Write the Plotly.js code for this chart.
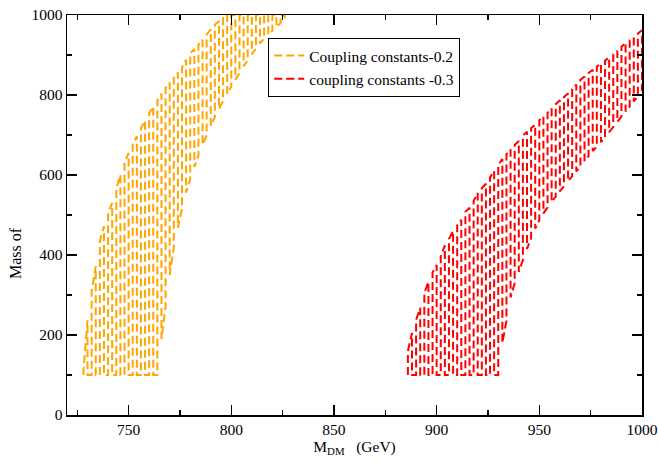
<!DOCTYPE html>
<html>
<head>
<meta charset="utf-8">
<script src="https://cdn.plot.ly/plotly-3.0.1.min.js"></script>
<style>html,body{margin:0;padding:0;background:#fff;}#chart{width:658px;height:462px;}</style>
</head>
<body>
<div id="chart"></div>
<script>
// Orange band (coupling 0.2): column positions and lower/upper ends
const mdm02 = [728,730,732,734,736,738,740,742,744,746,748,750,752,754,756,758,760,762,764,766,
  768,770,772,774,776,778,780,782,784,786,788,790,792,794,796,798,800,802,804,806,
  808,810,812,814,816,818,820,822,824,826];
const lo02 = [100,100,100,100,100,100,100,100,100,100,100,100,100,100,100,100,100,100,100,190,
  270,350,418,468,515,556,590,620,648,675,700,723,745,765,785,803,821,838,855,872,
  887,902,916,929,941,951,960,970,980,992];
const hi02 = [110,237,310,372,435,472,505,530,565,600,630,655,677,697,717,736,754,771,787,803,
  818,831,844,856,869,888,904,915,926,938,951,964,975,985,995,1000,1000,1000,1000,1000,
  1000,1000,1000,1000,1000,1000,1000,1000,1000,1000];

// Red band (coupling 0.3)
const mdm03 = [886,888,890,892,894,896,898,900,902,904,906,908,910,912,914,916,918,920,922,924,
  926,928,930,932,934,936,938,940,942,944,946,948,950,952,954,956,958,960,962,964,
  966,968,970,972,974,976,978,980,982,984,986,988,990,992,994,996,998,1000];
const lo03 = [100,100,100,100,100,100,100,100,100,100,100,100,100,100,100,100,100,100,100,100,
  100,100,100,180,236,294,330,358,387,415,443,466,487,504,519,533,546,559,572,585,
  597,609,622,635,648,660,671,682,694,707,720,733,746,759,771,784,797,810];
const hi03 = [160,205,238,268,305,333,356,375,397,424,440,460,474,488,508,518,535,555,567,578,
  594,610,625,640,652,664,675,685,699,708,717,726,737,746,756,766,777,787,795,804,
  815,826,838,846,855,863,871,879,886,894,902,910,920,931,937,943,954,962];

const seriesNames = ["Coupling constants-0.2", "coupling constants -0.3"];
const seriesColors = ["#FFA500", "#FF0000"];

const xTickVals = [750,800,850,900,950,1000];
const yTickVals = [0,200,400,600,800,1000];

function zigzag(xs, lo, hi) {
  const X = [], Y = [];
  for (let i = 0; i < xs.length; i++) {
    if (i % 2 === 0) { X.push(xs[i], xs[i]); Y.push(lo[i], hi[i]); }
    else { X.push(xs[i], xs[i]); Y.push(hi[i], lo[i]); }
  }
  return {X, Y};
}

const z1 = zigzag(mdm02, lo02, hi02);
const z2 = zigzag(mdm03, lo03, hi03);

const traces = [
  {x: z1.X, y: z1.Y, type: 'scatter', mode: 'lines', name: seriesNames[0],
   line: {color: seriesColors[0], width: 2, dash: '8px,4px'}},
  {x: z2.X, y: z2.Y, type: 'scatter', mode: 'lines', name: seriesNames[1],
   line: {color: seriesColors[1], width: 2, dash: '8px,4px'}}
];

const serif = "'Liberation Serif', 'Times New Roman', serif";
const layout = {
  width: 658, height: 462,
  margin: {l: 67, r: 16, t: 15, b: 47},
  paper_bgcolor: '#fff', plot_bgcolor: '#fff',
  font: {family: serif, size: 15.5, color: '#000'},
  showlegend: true,
  legend: {x: 0.35, y: 0.9425, xanchor: 'left', yanchor: 'top',
    bgcolor: '#fff', bordercolor: '#000', borderwidth: 1,
    font: {family: serif, size: 15.5, color: '#000'}, itemwidth: 30, tracegroupgap: 0},
  xaxis: {range: [720, 1000], tickvals: xTickVals, ticktext: xTickVals.map(String),
    ticks: 'inside', ticklen: 10, tickwidth: 1.2, tickcolor: '#000',
    minor: {dtick: 25, tick0: 0, ticks: 'inside', ticklen: 5, tickwidth: 1.2, tickcolor: '#000', showgrid: false},
    showline: true, linecolor: '#000', linewidth: 1.5, mirror: 'allticks',
    showgrid: false, zeroline: false,
    title: {text: 'M<sub>DM</sub>   (GeV)', font: {family: serif, size: 15.5}, standoff: 4}},
  yaxis: {range: [0, 1000], tickvals: yTickVals, ticktext: yTickVals.map(String),
    ticks: 'inside', ticklen: 10, tickwidth: 1.2, tickcolor: '#000',
    minor: {dtick: 100, tick0: 0, ticks: 'inside', ticklen: 5, tickwidth: 1.2, tickcolor: '#000', showgrid: false},
    showline: true, linecolor: '#000', linewidth: 1.5, mirror: 'allticks',
    showgrid: false, zeroline: false},
  annotations: [{text: 'Mass of', xref: 'paper', yref: 'paper', x: -0.0904, y: 0.405,
    xanchor: 'center', yanchor: 'middle', textangle: -90, showarrow: false,
    font: {family: serif, size: 16, color: '#000'}}]
};

Plotly.newPlot('chart', traces, layout, {displayModeBar: false, staticPlot: true});
</script>
</body>
</html>
